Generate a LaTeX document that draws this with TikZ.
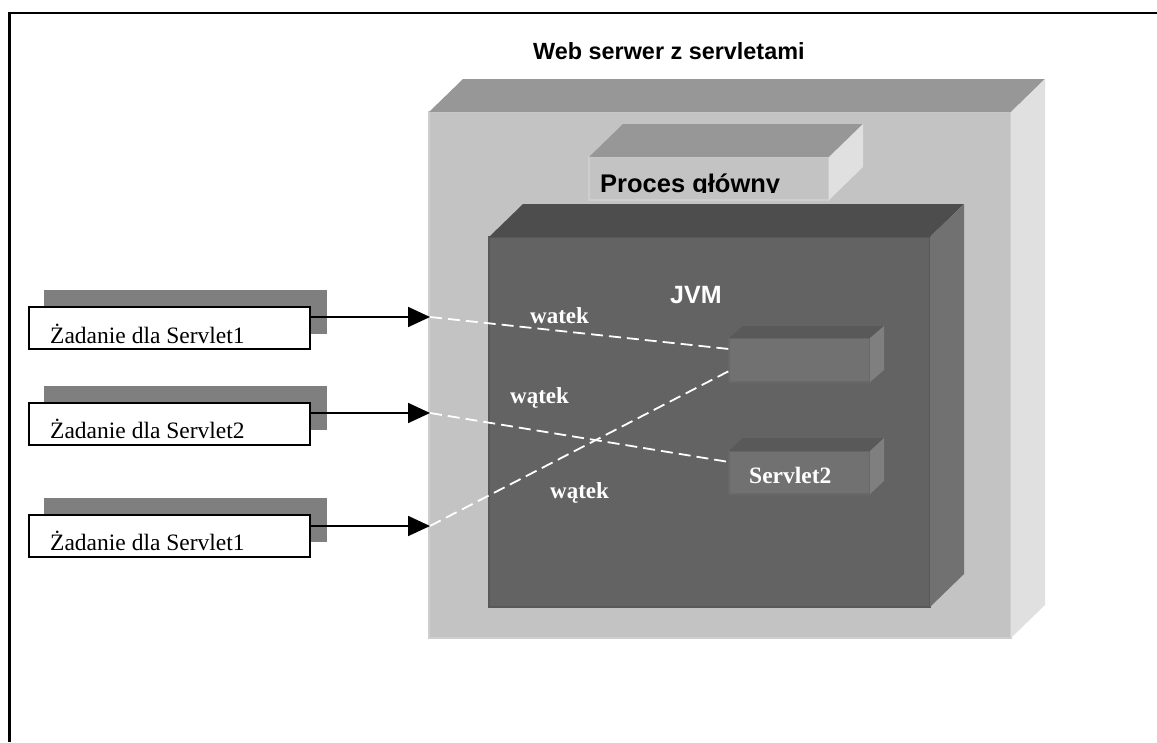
\documentclass[tikz,border=0pt]{standalone}
\usepackage{fontspec}
\setmainfont{Liberation Serif}
\newfontfamily\arialfont{Liberation Sans}
\usetikzlibrary{arrows.meta,calc}

\definecolor{wsFront}{HTML}{C3C3C3}
\definecolor{wsEdge}{HTML}{CECECE}
\definecolor{wsTop}{HTML}{979797}
\definecolor{wsSide}{HTML}{E0E0E0}
\definecolor{jvmFront}{HTML}{636363}
\definecolor{jvmEdge}{HTML}{585858}
\definecolor{jvmTop}{HTML}{4D4D4D}
\definecolor{jvmSide}{HTML}{717171}
\definecolor{srvFront}{HTML}{717171}
\definecolor{srvEdge}{HTML}{686868}
\definecolor{srvTop}{HTML}{595959}
\definecolor{srvSide}{HTML}{7F7F7F}
\definecolor{shadowgray}{HTML}{7F7F7F}

% top and right faces of a box whose front face is the node #1
\newcommand\prismfaces[4]{%
  \fill[#3] (#1.north west) -- ++(#2) -- ($(#1.north east)+(#2)$) -- (#1.north east) -- cycle;
  \fill[#4] (#1.north east) -- ++(#2) -- ($(#1.south east)+(#2)$) -- (#1.south east) -- cycle;}

\begin{document}
\begin{tikzpicture}[x=1pt,y=-1pt,
  face/.style={rectangle,inner sep=0pt,outer sep=0pt,anchor=north west},
  reqbox/.style={face,fill=white,draw=black,line width=1.8pt,minimum width=281pt,minimum height=42pt},
  reqshadow/.style={face,fill=shadowgray,minimum width=283pt,minimum height=44pt},
  reqtext/.style={anchor=base west,inner sep=0pt,font=\fontsize{23.5}{28}\selectfont},
  thrlabel/.style={anchor=base west,inner sep=0pt,text=white,font=\bfseries\fontsize{23}{28}\selectfont},
  feed/.style={line width=1.8pt,-{Triangle[length=22pt,width=20pt]}},
  thread/.style={white,line width=1.8pt,dash pattern=on 12pt off 6pt},
]
\useasboundingbox (0,0) rectangle (1157,742);

% page frame
\draw[line width=2.2pt] (9.5,742) -- (9.5,13) -- (1157,13);

% title
\node[anchor=base west,inner sep=0pt,font=\arialfont\bfseries\fontsize{23.4}{28}\selectfont] (title) at (533,59) {Web serwer z servletami};

% web server
\node[face,fill=wsFront,draw=wsEdge,line width=1.5pt,minimum width=582pt,minimum height=526pt] (ws) at (429,112) {};
\prismfaces{ws}{34pt,33pt}{wsTop}{wsSide}

% main process
\node[face,fill=wsFront,draw=wsEdge,line width=1.5pt,minimum width=240pt,minimum height=43pt] (proc) at (589,157) {};
\prismfaces{proc}{34pt,33pt}{wsTop}{wsSide}
\begin{scope}
  \clip (589,157) rectangle (829,192.5);
  \node[anchor=base west,inner sep=0pt,font=\arialfont\bfseries\fontsize{25.5}{30}\selectfont] (proctext) at (600,192) {Proces główny};
\end{scope}

% JVM
\node[face,fill=jvmFront,draw=jvmEdge,line width=1.5pt,minimum width=441pt,minimum height=370pt] (jvm) at (489,237) {};
\prismfaces{jvm}{34pt,33pt}{jvmTop}{jvmSide}
\node[anchor=base west,inner sep=0pt,text=white,font=\arialfont\bfseries\fontsize{25}{30}\selectfont] (jvmtext) at (670,303) {JVM};

% servlets
\node[face,fill=srvFront,draw=srvEdge,line width=1.2pt,minimum width=141pt,minimum height=44pt] (s1) at (729,338) {};
\prismfaces{s1}{14pt,12pt}{srvTop}{srvSide}
\node[face,fill=srvFront,draw=srvEdge,line width=1.2pt,minimum width=141pt,minimum height=43pt] (s2) at (729,451) {};
\prismfaces{s2}{14pt,13pt}{srvTop}{srvSide}
\node[anchor=base west,inner sep=0pt,text=white,font=\bfseries\fontsize{23.5}{28}\selectfont] (s2text) at (749,483) {Servlet2};

% requests
\node[reqshadow] (sh1) at (44,290) {};
\node[reqbox] (r1) at (29,307) {};
\node[reqtext] (t1) at (50,343) {Żadanie dla Servlet1};
\node[reqshadow] (sh2) at (44,386) {};
\node[reqbox] (r2) at (29,403) {};
\node[reqtext] (t2) at (50,438) {Żadanie dla Servlet2};
\node[reqshadow] (sh3) at (44,498) {};
\node[reqbox] (r3) at (29,515) {};
\node[reqtext] (t3) at (50,550) {Żadanie dla Servlet1};

\coordinate (in1) at (430,317);
\coordinate (in2) at (430,413);
\coordinate (in3) at (430,526);
\draw[feed] (r1.east |- in1) -- (in1);
\draw[feed] (r2.east |- in2) -- (in2);
\draw[feed] (r3.east |- in3) -- (in3);

% threads
\draw[thread] (in1) -- ([yshift=11pt]s1.west);
\draw[thread] (in2) -- ([yshift=10.5pt]s2.west);
\draw[thread] (in3) -- ([yshift=-11pt]s1.west);
\node[thrlabel] (w1) at (530,323) {watek};
\node[thrlabel] (w2) at (510,403) {wątek};
\node[thrlabel] (w3) at (550,498) {wątek};
\end{tikzpicture}
\end{document}
